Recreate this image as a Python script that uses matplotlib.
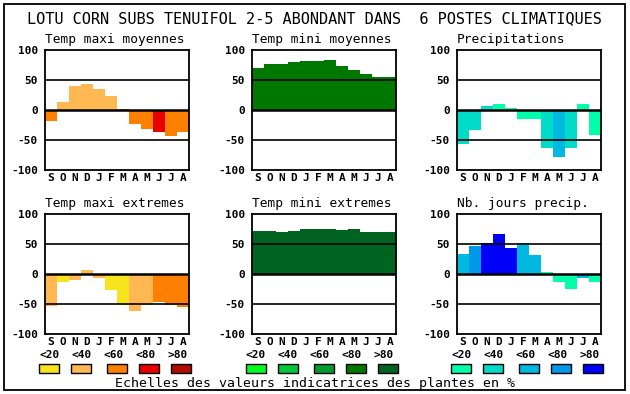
import numpy as np
import matplotlib
matplotlib.use('Agg')
import matplotlib.pyplot as plt
from matplotlib.patches import Rectangle

# data
months = ['S', 'O', 'N', 'D', 'J', 'F', 'M', 'A', 'M', 'J', 'J', 'A']
scale_labels = ['<20', '<40', '<60', '<80', '>80']

reds = ['#f8e41c', '#ffb852', '#ff8000', '#e80000', '#b00c00']
greens = ['#00ff20', '#00c83c', '#009c30', '#007800', '#006420']
blues = ['#00ffaa', '#00dcc8', '#00b8e0', '#0098e8', '#0000f8']

titles = ['Temp maxi moyennes', 'Temp mini moyennes', 'Precipitations',
          'Temp maxi extremes', 'Temp mini extremes', 'Nb. jours precip.']

tmax_moy = [-18, 13, 40, 43, 35, 23, 2, -23, -31, -36, -43, -36]
tmax_moy_cls = [2, 1, 1, 1, 1, 1, 2, 2, 2, 3, 2, 2]

tmin_moy = [70, 77, 77, 80, 82, 82, 83, 74, 67, 60, 55, 55]
tmin_moy_cls = [3] * 12

precip = [-56, -34, 7, 10, 3, -15, -15, -63, -78, -63, 10, -41]
precip_cls = [1, 1, 1, 0, 0, 0, 0, 1, 2, 1, 0, 0]

tmax_ext = [-54, -14, -10, 7, -7, -27, -52, -62, -52, -46, -52, -55]
tmax_ext_cls = [1, 0, 1, 1, 1, 0, 0, 1, 1, 2, 2, 2]

tmin_ext = [72, 72, 70, 72, 75, 75, 75, 73, 75, 70, 70, 70]
tmin_ext_cls = [4] * 12

jours = [34, 47, 52, 67, 44, 52, 32, 4, -14, -25, -6, -14]
jours_cls = [2, 3, 4, 4, 4, 2, 2, 0, 0, 0, 2, 0]

W, H = 630, 394
fig = plt.figure(figsize=(W / 100, H / 100), dpi=100)
mono = 'DejaVu Sans Mono'


def px_axes(left, top, width, height):
    return fig.add_axes([left / W, 1 - (top + height) / H, width / W, height / H])


panels = [
    (tmax_moy, tmax_moy_cls, reds),
    (tmin_moy, tmin_moy_cls, greens),
    (precip, precip_cls, blues),
    (tmax_ext, tmax_ext_cls, reds),
    (tmin_ext, tmin_ext_cls, greens),
    (jours, jours_cls, blues),
]
lefts = [45, 252, 457]
tops = [50, 214]

x = np.arange(12)
for i, (vals, cls, pal) in enumerate(panels):
    left = lefts[i % 3]
    top = tops[i // 3]
    ax = px_axes(left, top, 144, 120)
    ax.bar(x, vals, width=1.0, color=[pal[c] for c in cls], linewidth=0, zorder=1)
    ax.axhline(0, color='black', lw=1.8, zorder=3)
    for g in (-50, 50):
        ax.axhline(g, color='black', lw=1.2, zorder=3)
    ax.set_xlim(-0.5, 11.5)
    ax.set_ylim(-100, 100)
    ax.set_yticks([-100, -50, 0, 50, 100])
    ax.set_yticklabels(['-100', '-50', '0', '50', '100'],
                       fontfamily=mono, fontweight='bold', fontsize=8)
    ax.set_xticks(x)
    ax.set_xticklabels(months, fontfamily=mono, fontweight='bold', fontsize=8)
    ax.tick_params(length=0, axis='y', pad=5)
    ax.tick_params(length=0, axis='x', pad=2)
    for s in ax.spines.values():
        s.set_linewidth(1.3)
    fig.text(left / W, 1 - (top - 7) / H, titles[i], fontfamily=mono,
             fontsize=9.3, ha='left', va='baseline')

    # colour scale below each column
    if i < 3:
        for k in range(5):
            lx = left - 6 + 32 * k
            fig.text(lx / W, 1 - 355 / H, scale_labels[k], fontfamily=mono,
                     fontweight='bold', fontsize=8, ha='left', va='center')
            bx = left + [-6, 26, 62, 94, 126][k]
            fig.patches.append(Rectangle((bx / W, 1 - 373 / H), 20 / W, 9 / H,
                                         transform=fig.transFigure,
                                         facecolor=pal[k], edgecolor='black',
                                         lw=1))

fig.text(314 / W, 1 - 19 / H,
         'LOTU CORN SUBS TENUIFOL 2-5 ABONDANT DANS  6 POSTES CLIMATIQUES',
         fontfamily=mono, fontsize=11, ha='center', va='center')
fig.text(315 / W, 1 - 383 / H,
         'Echelles des valeurs indicatrices des plantes en %',
         fontfamily=mono, fontsize=9.5, ha='center', va='center')

fig.patches.append(Rectangle((4 / W, 1 - 390 / H), 621 / W, 386 / H,
                             transform=fig.transFigure, fill=False,
                             edgecolor='black', lw=1.3))

fig.savefig('out.png', dpi=100)
